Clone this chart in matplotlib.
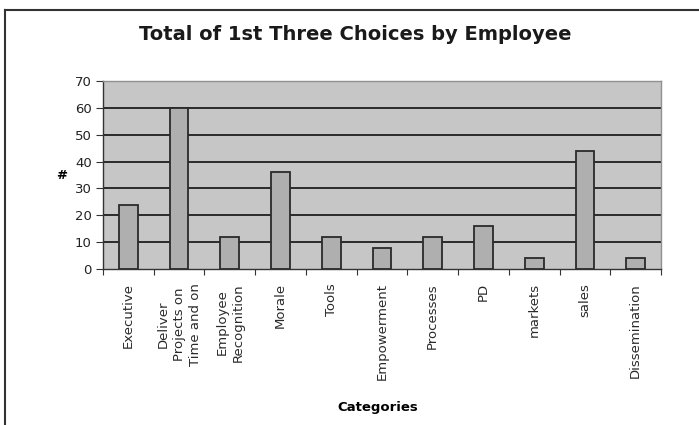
import matplotlib
matplotlib.use("Agg")
import matplotlib.pyplot as plt
from matplotlib.lines import Line2D
import numpy as np

categories = ["Executive", "Deliver\nProjects on\nTime and on", "Employee\nRecognition",
              "Morale", "Tools", "Empowerment", "Processes", "PD", "markets", "sales",
              "Dissemination"]
values = [24, 60, 12, 36, 12, 8, 12, 16, 4, 44, 4]
yticks = [0, 10, 20, 30, 40, 50, 60, 70]

fig = plt.figure(figsize=(6.99, 4.25), dpi=100)
fig.patch.set_facecolor("white")
ax = fig.add_axes([103/699, 1-269/425, (661-103)/699, (269-81)/425])
ax.set_facecolor("#c6c6c6")

x = np.arange(len(categories))
ax.bar(x, values, width=0.37, color="#afafaf", edgecolor="#2a2a2a", linewidth=1.3, zorder=3)

ax.set_xlim(-0.5, len(categories) - 0.5)
ax.set_ylim(0, 70)
ax.set_yticks(yticks)
ax.set_yticklabels([str(v) for v in yticks], fontsize=9.5, color="#222222")
for v in yticks[1:-1]:
    ax.axhline(v, color="#2a2a2a", linewidth=1.4, zorder=2)

ax.set_xticks(np.arange(-0.5, len(categories), 1.0))
ax.set_xticklabels([])
ax.set_xticks(x, minor=True)
ax.set_xticklabels(categories, minor=True, rotation=90, fontsize=9.5,
                   va="top", ha="center", multialignment="center", color="#2a2a2a",
                   linespacing=1.3)
ax.tick_params(axis="x", which="major", length=4, direction="out", color="#333333")
ax.tick_params(axis="x", which="minor", length=0, pad=10)
ax.tick_params(axis="y", length=5, direction="out", color="#333333", pad=3)

for s in ["top", "right"]:
    ax.spines[s].set_color("#909090")
    ax.spines[s].set_linewidth(1.0)
for s in ["left", "bottom"]:
    ax.spines[s].set_color("#333333")
    ax.spines[s].set_linewidth(1.0)

fig.text(355/699, 1-35/425, "Total of 1st Three Choices by Employee", fontsize=14,
         fontweight="bold", ha="center", va="center", color="#1a1a1a")
fig.text(62/699, 1-176/425, "#", fontsize=9.5, fontweight="bold", ha="center", va="center")
fig.text(378/699, 1-408/425, "Categories", fontsize=9.5, fontweight="bold", ha="center", va="center")

# outer chart border (top and left visible)
fig.add_artist(Line2D([4.5/699, 1.0], [1-10/425, 1-10/425], transform=fig.transFigure,
                      color="#333333", linewidth=1.5))
fig.add_artist(Line2D([4.5/699, 4.5/699], [0.0, 1-10/425], transform=fig.transFigure,
                      color="#333333", linewidth=1.5))

fig.savefig("out.png", dpi=100)
